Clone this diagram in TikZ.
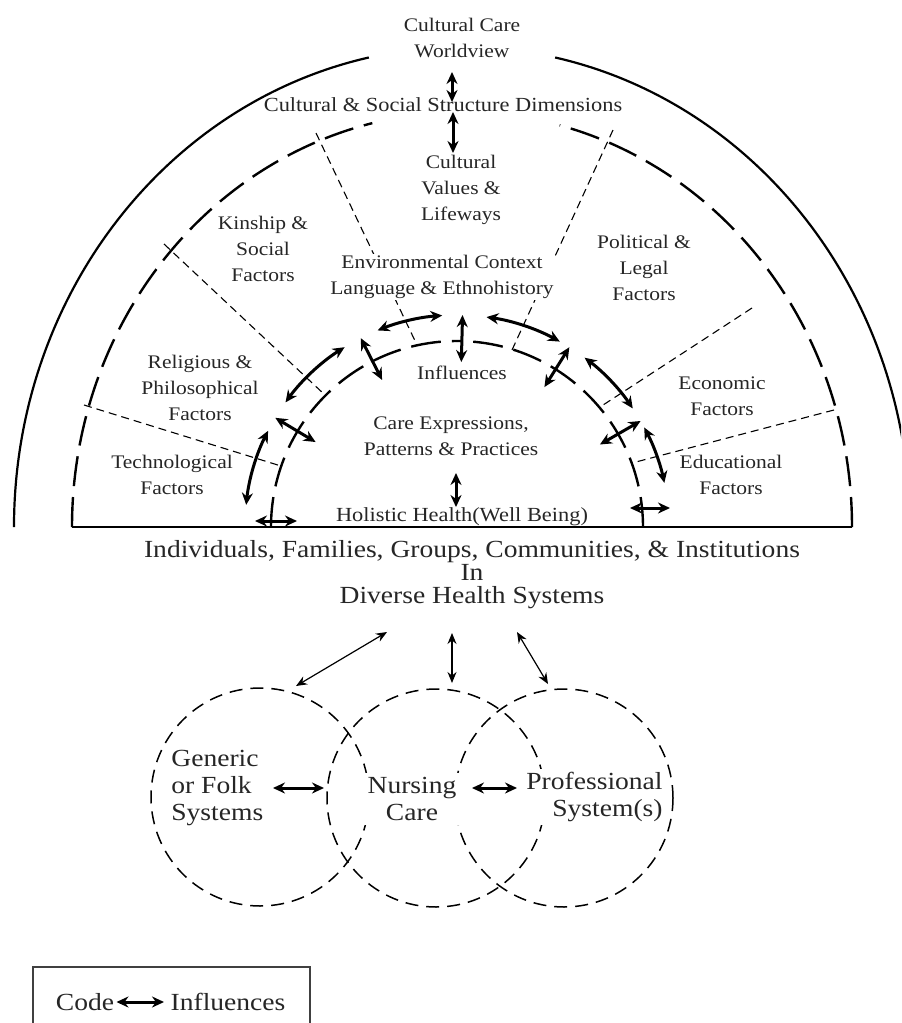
\documentclass[tikz,border=0pt]{standalone}
\usepackage{fontspec}
\setmainfont{Liberation Serif}[FakeStretch=1.12]
\usetikzlibrary{arrows.meta,calc}
\begin{document}
\begin{tikzpicture}[x=0.5pt,y=-0.5pt,
  txt/.style={text=black!85, inner sep=0.5pt, align=center, font=\fontsize{9.6}{12.9}\selectfont},
  txtbig/.style={text=black!85, inner sep=0.5pt, font=\fontsize{12.3}{13.75}\selectfont},
  solidarc/.style={line width=1.1pt},
  bigdash/.style={line width=1.2pt, dash pattern=on 15pt off 5.5pt},
  divider/.style={line width=0.55pt, dash pattern=on 4pt off 2.5pt},
  circdash/.style={line width=0.75pt, dash pattern=on 6.5pt off 4pt},
  dbl/.style={line width=1.5pt, {Stealth[length=6pt,width=5.5pt]}-{Stealth[length=6pt,width=5.5pt]}},
  thindbl/.style={line width=0.6pt, {Stealth[length=5.5pt,width=4.5pt]}-{Stealth[length=5.5pt,width=4.5pt]}},
]
\useasboundingbox (0,0) rectangle (901,1023);
\clip (0,0) rectangle (901,1023);
\fill[white] (0,0) rectangle (901,1023);

\coordinate (O) at (462,527);
\coordinate (C) at (457,527);

% outer solid arc (cultural care worldview)
\draw[solidarc] ($(O)+(-180:448 and 480)$) arc[start angle=-180, end angle=-102, x radius=448, y radius=480];
\draw[solidarc] ($(O)+(-78:448 and 480)$) arc[start angle=-78, end angle=0, x radius=448, y radius=480];

% outer dashed arc (cultural & social structure)
\draw[bigdash] ($(O)+(-180:390 and 415)$) arc[start angle=-180, end angle=-103.3, x radius=390, y radius=415];
\draw[bigdash] ($(O)+(0:390 and 415)$) arc[start angle=0, end angle=-75.5, x radius=390, y radius=415];

% baseline
\coordinate (bl) at (72,527);
\coordinate (br) at (852,527);
\draw[line width=1.1pt] (bl) -- (br);

% dividers
\draw[divider] (84,405) -- (281,466);
\draw[divider] (164,244) -- (325,395);
\draw[divider] (316,133) -- (417,345);
\draw[divider] (613,130) -- (512,350);
\draw[divider] (752,308) -- (600,407);
\draw[divider] (834,410) -- (632,463);

% inner dashed half circle
\draw[bigdash] ($(C)+(-180:186)$) arc[start angle=-180, end angle=-90, radius=186];
\draw[bigdash] ($(C)+(0:186)$) arc[start angle=0, end angle=-90, radius=186];

% arc arrows
\foreach \a/\b in {153/174, 122/144, 94/112, 61/82, 34/53, 12/28}
  \draw[dbl] ($(C)+(-\a:212)$) arc[start angle=-\a, end angle=-\b, radius=212];
% radial arrows
\foreach \t in {149,117,88.5,58,30}
  \draw[dbl] ($(C)+(-\t:165)$) -- ($(C)+(-\t:212)$);
% horizontal arrows at base
\draw[dbl] (255,521) -- (297,521);
\draw[dbl] (630,508) -- (670,508);

% text
\node[txt] (world) at (462,38) {Cultural Care\\Worldview};
\node[txt, font=\fontsize{10}{12.9}\selectfont] (csd) at (443,105) {Cultural \& Social Structure Dimensions};
\node[txt] (values) at (461,190) {Cultural\\Values \&\\Lifeways};
\node[txt] (kin) at (263,249) {Kinship \&\\Social\\Factors};
\node[txt] (pol) at (644,268) {Political \&\\Legal\\Factors};
\node[txt, fill=white] (env) at (442,277) {Environmental Context\\Language \& Ethnohistory};
\node[txt] (rel) at (200,388) {Religious \&\\Philosophical\\Factors};
\node[txt] (eco) at (722,396) {Economic\\Factors};
\node[txt] (infl) at (462,373) {Influences};
\node[txt] (care) at (451,436) {Care Expressions,\\Patterns \& Practices};
\node[txt] (tech) at (172,475) {Technological\\Factors};
\node[txt] (edu) at (731,475) {Educational\\Factors};
\node[txt, font=\fontsize{10}{12}\selectfont] (hol) at (462,517) {Holistic Health(Well Being)};
\node[txtbig, align=center, font=\fontsize{12.3}{11.5}\selectfont] (ind) at (472,575) {Individuals, Families, Groups, Communities, \& Institutions\\In\\Diverse Health Systems};

% top vertical arrows
\coordinate (t1) at (452,72); \coordinate (t2) at (452,102);
\coordinate (t3) at (453,112); \coordinate (t4) at (453,153);
\draw[dbl] (t1) -- (t2);
\draw[dbl] (t3) -- (t4);
\coordinate (h1) at (456,473); \coordinate (h2) at (456,507);
\draw[dbl] (h1) -- (h2);

% three systems
\coordinate (c1) at (260,797);
\coordinate (c2) at (436,798);
\coordinate (c3) at (564,798);
\draw[circdash] (c1) circle (109);
\draw[circdash] (c2) circle (109);
\draw[circdash] (c3) circle (109);

\node[txtbig, align=left, anchor=west] (gen) at (170,788) {Generic\\or Folk\\Systems};
\node[txtbig, align=center, fill=white, inner sep=2pt] (nur) at (412,799) {Nursing\\Care};
\node[txtbig, align=right, anchor=east, fill=white, inner sep=1.5pt] (pro) at (666,797) {Professional\\System(s)};

\draw[dbl] (273,788) -- (324,788);
\draw[dbl] (472,788) -- (517,788);

% arrows from health systems to the three systems
\coordinate (s1) at (387,632); \coordinate (e1) at (296,686);
\coordinate (s2) at (452,633); \coordinate (e2) at (452,683);
\coordinate (s3) at (517,632); \coordinate (e3) at (548,684);
\draw[thindbl] (s1) -- (e1);
\draw[thindbl] (s2) -- (e2);
\draw[thindbl] (s3) -- (e3);

% legend
\draw[line width=0.8pt, black!75] (33,967) rectangle (310,1040);
\node[txtbig] (code) at (85,1002) {Code};
\node[txtbig] (leginf) at (228,1002) {Influences};
\draw[dbl] (code.east) ++(1,0) coordinate (lg1) -- (leginf.west -| 164,0) coordinate (lg2);
\end{tikzpicture}
\end{document}
